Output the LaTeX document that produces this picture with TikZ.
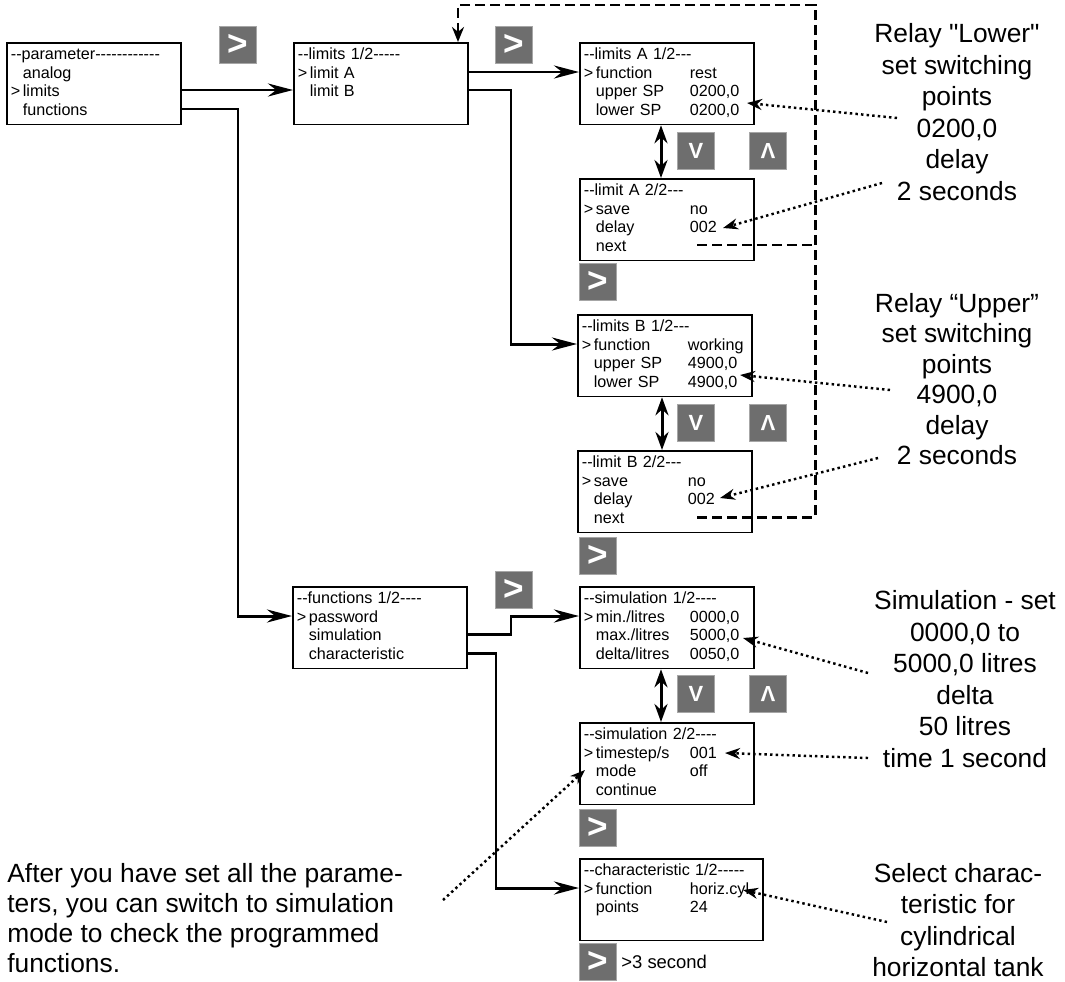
\documentclass[tikz,border=0pt]{standalone}
\usepackage{fontspec}
\setmainfont{Liberation Sans}[Ligatures=TeXOff]
\usetikzlibrary{arrows.meta,calc}

% one menu line: cursor, item, value
\newcommand{\mrow}[3]{\strut\makebox[2.4mm][l]{#1}\makebox[18.8mm][l]{#2}#3}

\tikzset{
  screen/.style={draw, line width=1pt, anchor=north west, text width=3.32cm, align=left,
    inner xsep=0.8mm, inner ysep=2pt, font=\fontsize{9.2}{10.6}\selectfont},
  key/.style={fill=black!57, draw=black!35, line width=0.8pt, minimum size=0.74cm, inner sep=0,
    text=white, font=\fontsize{20}{20}\selectfont\bfseries},
  arrowkey/.style={key, font=\fontsize{12.5}{12.5}\selectfont\bfseries},
  flow/.style={line width=1.7pt, -{Stealth[length=5mm,width=2.6mm]}},
  updown/.style={line width=1.7pt, {Stealth[length=3.6mm,width=2.6mm]}-{Stealth[length=3.6mm,width=2.6mm]}},
  back/.style={line width=1.7pt, dash pattern=on 2mm off 1mm},
  hint/.style={line width=1.4pt, dash pattern=on 1.4pt off 1.8pt, -{Stealth[length=3mm,width=2.2mm]}},
  note/.style={align=center, inner sep=0, font=\fontsize{15}{17.9}\selectfont},
}

\begin{document}
\begin{tikzpicture}[x=0.02cm, y=-0.02cm]
\useasboundingbox (0,0) rectangle (1065,981);

% menu screens
\node[screen] (par) at (6,42) {\strut--parameter------------\\ \mrow{}{analog}{}\\ \mrow{>}{limits}{}\\ \mrow{}{functions}{}};
\node[screen] (lim) at (293,42) {\strut--limits 1/2-----\\ \mrow{>}{limit A}{}\\ \mrow{}{limit B}{}\\ \strut};
\node[screen] (limA1) at (579,42) {\strut--limits A 1/2---\\ \mrow{>}{function}{rest}\\ \mrow{}{upper SP}{0200,0}\\ \mrow{}{lower SP}{0200,0}};
\node[screen] (limA2) at (579,178) {\strut--limit A 2/2---\\ \mrow{>}{save}{no}\\ \mrow{}{delay}{002}\\ \mrow{}{next}{}};
\node[screen] (limB1) at (577,314) {\strut--limits B 1/2---\\ \mrow{>}{function}{working}\\ \mrow{}{upper SP}{4900,0}\\ \mrow{}{lower SP}{4900,0}};
\node[screen] (limB2) at (577,450) {\strut--limit B 2/2---\\ \mrow{>}{save}{no}\\ \mrow{}{delay}{002}\\ \mrow{}{next}{}};
\node[screen] (fun) at (292,586) {\strut--functions 1/2----\\ \mrow{>}{password}{}\\ \mrow{}{simulation}{}\\ \mrow{}{characteristic}{}};
\node[screen] (sim1) at (579,586) {\strut--simulation 1/2----\\ \mrow{>}{min./litres}{0000,0}\\ \mrow{}{max./litres}{5000,0}\\ \mrow{}{delta/litres}{0050,0}};
\node[screen] (sim2) at (579,722) {\strut--simulation 2/2----\\ \mrow{>}{timestep/s}{001}\\ \mrow{}{mode}{off}\\ \mrow{}{continue}{}};
\node[screen, text width=3.5cm] (chr) at (579,858) {\strut--characteristic 1/2-----\\ \mrow{>}{function}{horiz.cyl}\\ \mrow{}{points}{24}\\ \strut};

% keys
\node[key] (kPar) at (238,45) {>};
\node[key] (kLim) at (514,45) {>};
\node[arrowkey] (dnA) at (696,151) {V};
\node[arrowkey] (upA) at (768,151) {\rotatebox{180}{V}};
\node[key] (kA) at (598,282) {>};
\node[arrowkey] (dnB) at (696,423) {V};
\node[arrowkey] (upB) at (768,423) {\rotatebox{180}{V}};
\node[key] (kB) at (598,556) {>};
\node[key] (kFun) at (514,590) {>};
\node[arrowkey] (dnS) at (696,694) {V};
\node[arrowkey] (upS) at (768,694) {\rotatebox{180}{V}};
\node[key] (kSim) at (598,828) {>};
\node[key] (kChr) at (598,962) {>};
\node[anchor=west, inner sep=0, font=\fontsize{10.5}{12}\selectfont] (hold) at (621,962) {>3 second};

% notes
\node[note] (relL) at (957,112) {Relay "Lower"\\ set switching\\ points\\ 0200,0\\ delay\\ 2 seconds};
\node[note, font=\fontsize{15}{17.3}\selectfont] (relU) at (957,379) {Relay “Upper”\\ set switching\\ points\\ 4900,0\\ delay\\ 2 seconds};
\node[note] (simN) at (965,679) {Simulation - set\\ 0000,0 to\\ 5000,0 litres\\ delta\\ 50 litres\\ time 1 second};
\node[note] (selN) at (958,920) {Select charac-\\ teristic for\\ cylindrical\\ horizontal tank};
\node[note, align=left, anchor=west, font=\fontsize{15}{17.1}\selectfont] (aftN) at (7,918) {After you have set all the parame-\\ ters, you can switch to simulation\\ mode to check the programmed\\ functions.};

% menu flow
\draw[flow] ($(par.north east)+(0,48)$) -- ($(lim.north west)+(0,48)$);
\draw[flow] ($(par.north east)+(0,67)$) -| ($(fun.north west)+(-54,30)$) -- ($(fun.north west)+(0,30)$);
\draw[flow] ($(lim.north east)+(0,30)$) -- ($(limA1.north west)+(0,30)$);
\draw[flow] ($(lim.north east)+(0,48)$) -| ($(limB1.north west)+(-66,30)$) -- ($(limB1.north west)+(0,30)$);
\draw[flow] ($(fun.north east)+(0,48)$) -| ($(sim1.north west)+(-68,30)$) -- ($(sim1.north west)+(0,30)$);
\draw[flow] ($(fun.north east)+(0,67)$) -| ($(chr.north west)+(-83,30)$) -- ($(chr.north west)+(0,30)$);
\draw[updown] ($(limA1.south west)+(82,0)$) -- ($(limA2.north west)+(82,0)$);
\draw[updown] ($(limB1.south west)+(85,0)$) -- ($(limB2.north west)+(85,0)$);
\draw[updown] ($(sim1.south west)+(82,0)$) -- ($(sim2.north west)+(82,0)$);

% "next" goes back to limits
\coordinate (nxA) at ($(limA2.north west)+(118,67)$);
\coordinate (nxB) at ($(limB2.north west)+(120,67)$);
\coordinate (loop) at (815,5);
\draw[back] (nxA) -- (nxA -| loop);
\draw[back, -{Stealth[length=3mm,width=2.4mm]}] (nxB) -| (loop) -| ($(lim.north west)+(165,0)$);

% hints
\draw[hint] ($(relL.center)+(-60,6)$) -- ($(limA1.north west)+(168,61)$);
\draw[hint] ($(relL.center)+(-75,71)$) -- ($(limA2.north west)+(144,50)$);
\draw[hint] ($(relU.center)+(-67,11)$) -- ($(limB1.north west)+(163,61)$);
\draw[hint] ($(relU.center)+(-79,79)$) -- ($(limB2.north west)+(143,48)$);
\draw[hint] ($(simN.center)+(-97,-6)$) -- ($(sim1.north west)+(164,52)$);
\draw[hint] ($(simN.center)+(-97,79)$) -- ($(sim2.north west)+(146,31)$);
\draw[hint] ($(selN.center)+(-71,2)$) -- ($(chr.north west)+(164,32)$);
\draw[hint] ($(aftN.west)+(436,-18)$) -- ($(sim2.north west)+(6,48)$);
\end{tikzpicture}
\end{document}
